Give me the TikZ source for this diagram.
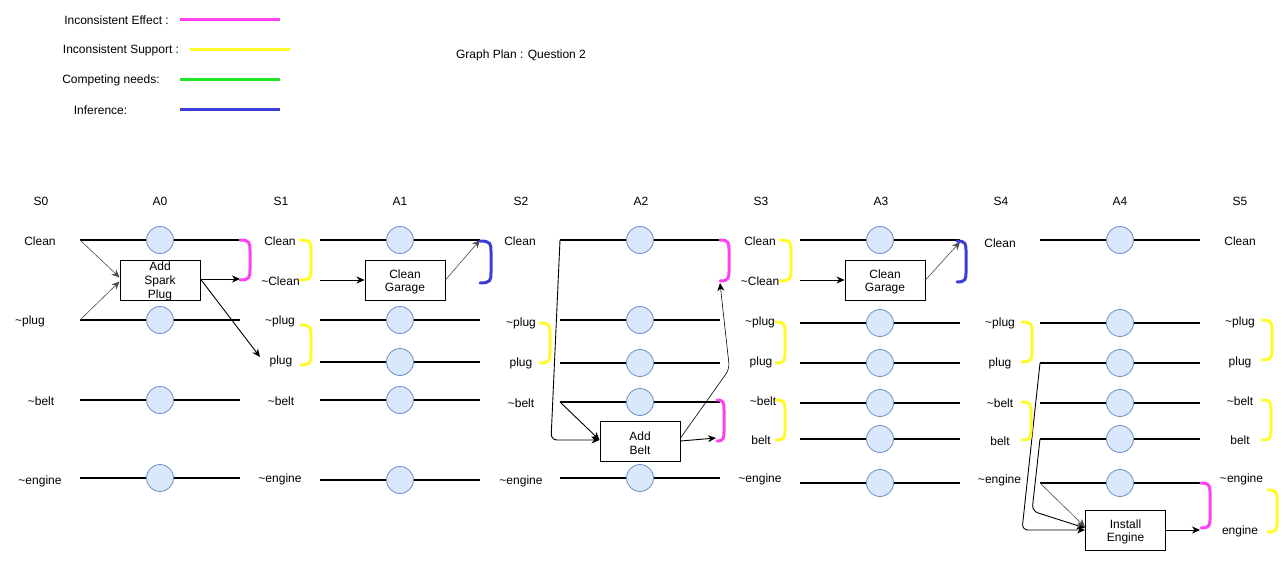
\documentclass[tikz,border=0pt]{standalone}
\usepackage{fontspec}
\setmainfont{Liberation Sans}
\usetikzlibrary{arrows.meta}
\definecolor{ieC}{RGB}{255,64,240}
\definecolor{isC}{RGB}{255,250,40}
\definecolor{cnC}{RGB}{30,230,30}
\definecolor{infC}{RGB}{60,60,215}
\definecolor{noopF}{HTML}{DAE8FC}
\definecolor{noopD}{HTML}{6C8EBF}
\newcommand\tld{\textasciitilde}
\newcommand\mybrak[5]{%
  \draw[brk,#1] (#2,#3) .. controls (#2+#5,#3) and (#2+#5,#3+3) .. (#2+#5,#3+11)
    -- (#2+#5,#4-11) .. controls (#2+#5,#4-3) and (#2+#5,#4) .. (#2,#4);}
\begin{document}
\begin{tikzpicture}[x=1pt,y=-1pt,font=\fontsize{12}{14}\selectfont,
  lbl/.style={inner sep=0pt,anchor=center},
  noop/.style={circle,draw=noopD,fill=noopF,line width=0.8pt,minimum size=27pt,inner sep=0pt},
  actbox/.style={draw,line width=0.9pt,fill=white,minimum width=80pt,minimum height=40pt,inner sep=0pt},
  acttext/.style={align=center,inner sep=0pt,font=\fontsize{12}{13.7}\selectfont},
  lvl/.style={line width=2pt},
  arr/.style={line width=0.9pt,-{Stealth[length=8pt,width=7pt,inset=2.5pt]}},
  tarr/.style={line width=0.6pt,draw=black!70,-{Stealth[length=8pt,width=7pt,inset=2.5pt]}},
  brk/.style={line width=3pt,line cap=round},
]
\useasboundingbox (0,0) rectangle (1287,561);

% legend
\node[lbl] (lg1) at (116.5,20) {Inconsistent Effect :};
\node[lbl] (lg2) at (121,50) {Inconsistent Support :};
\node[lbl] (lg3) at (111,80) {Competing needs:};
\node[lbl] (lg4) at (100.5,110) {Inference:};
\coordinate (lg1a) at (180,20); \coordinate (lg1b) at (280,20);
\coordinate (lg2a) at (190,50); \coordinate (lg2b) at (290,50);
\coordinate (lg3a) at (180,80); \coordinate (lg3b) at (280,80);
\coordinate (lg4a) at (180,110); \coordinate (lg4b) at (280,110);
\draw[line width=3pt,ieC] (lg1a) -- (lg1b);
\draw[line width=3pt,isC] (lg2a) -- (lg2b);
\draw[line width=3pt,cnC] (lg3a) -- (lg3b);
\draw[line width=3pt,infC] (lg4a) -- (lg4b);
\node[lbl] (title) at (521,55) {Graph Plan : Question 2};

% headers
\foreach \n/\x in {S0/41,A0/160,S1/281,A1/400,S2/521,A2/641,S3/761,A3/881,S4/1001,A4/1120,S5/1240}
  \node[lbl] (h\n) at (\x,201) {\n};

% level lines with no-op circles
\foreach \x/\y/\n in {80/240/a0c,80/320/a0p,80/400/a0b,80/478/a0e,
  320/240/a1c,320/320/a1np,320/362/a1p,320/400/a1b,320/480/a1e,
  560/240/a2c,560/320/a2np,560/363/a2p,560/402/a2b,560/478/a2e,
  800/240/a3c,800/323/a3np,800/363/a3p,800/403/a3nb,800/439/a3b,800/483/a3e,
  1040/240/a4c,1040/323/a4np,1040/363/a4p,1040/403/a4nb,1040/439/a4b,1040/483/a4e}{
  \coordinate (\n-l) at (\x,\y);
  \coordinate (\n-r) at (\x+160,\y);
  \draw[lvl] (\n-l) -- (\n-r);
  \node[noop] (\n) at (\x+80,\y) {};
}

% state labels
\node[lbl] (s0c) at (40,241) {Clean};
\node[lbl] (s0p) at (30,321) {\tld plug};
\node[lbl] (s0b) at (41,401) {\tld belt};
\node[lbl] (s0e) at (40,481) {\tld engine};

\node[lbl] (s1c) at (280,241) {Clean};
\node[lbl] (s1nc) at (280.5,281) {\tld Clean};
\node[lbl] (s1np) at (280,321) {\tld plug};
\node[lbl] (s1p) at (281,361) {plug};
\node[lbl] (s1b) at (281,401) {\tld belt};
\node[lbl] (s1e) at (280,479) {\tld engine};

\node[lbl] (s2c) at (520,241) {Clean};
\node[lbl] (s2np) at (521,323) {\tld plug};
\node[lbl] (s2p) at (521,363) {plug};
\node[lbl] (s2b) at (521,403) {\tld belt};
\node[lbl] (s2e) at (521,481) {\tld engine};

\node[lbl] (s3c) at (760,241) {Clean};
\node[lbl] (s3nc) at (760,281) {\tld Clean};
\node[lbl] (s3np) at (760,322) {\tld plug};
\node[lbl] (s3p) at (761,362) {plug};
\node[lbl] (s3nb) at (763,401) {\tld belt};
\node[lbl] (s3b) at (761,440) {belt};
\node[lbl] (s3e) at (760,479) {\tld engine};

\node[lbl] (s4c) at (1000,243) {Clean};
\node[lbl] (s4np) at (1000,323) {\tld plug};
\node[lbl] (s4p) at (1000,363) {plug};
\node[lbl] (s4nb) at (1000,403) {\tld belt};
\node[lbl] (s4b) at (1000,441) {belt};
\node[lbl] (s4e) at (999.5,480) {\tld engine};

\node[lbl] (s5c) at (1240,241) {Clean};
\node[lbl] (s5np) at (1240,322) {\tld plug};
\node[lbl] (s5p) at (1240,362) {plug};
\node[lbl] (s5nb) at (1240,401) {\tld belt};
\node[lbl] (s5b) at (1240,440) {belt};
\node[lbl] (s5ne) at (1241.5,479) {\tld engine};
\node[lbl] (s5e) at (1240,531) {engine};

% action boxes
\node[actbox] (asp) at (160,280) {};
\node[acttext] (asp-t) at ([yshift=-1.5pt]asp.center) {Add\\Spark\\Plug};
\node[actbox] (cg1) at (405,280) {};
\node[acttext] (cg1-t) at ([yshift=-2pt]cg1.center) {Clean\\Garage};
\node[actbox] (ab) at (640,441) {};
\node[acttext] (ab-t) at ([yshift=-2pt]ab.center) {Add\\Belt};
\node[actbox] (cg3) at (885,280) {};
\node[acttext] (cg3-t) at ([yshift=-2pt]cg3.center) {Clean\\Garage};
\node[actbox] (ie) at (1125.5,530) {};
\node[acttext] (ie-t) at ([yshift=-2pt]ie.center) {Install\\Engine};

% A0 connectors
\coordinate (a0out1) at (240,279);
\coordinate (a0out2) at (260,357);
\draw[tarr] (a0c-l) -- ([yshift=2.5pt]asp.west);
\draw[tarr] (a0p-l) -- ([yshift=-1.5pt]asp.west);
\draw[arr] ([yshift=1pt]asp.east) -- (a0out1);
\draw[arr] ([yshift=1pt]asp.east) -- (a0out2);

% A1 connectors
\coordinate (a1nc-l) at (320,280);
\draw[arr] (a1nc-l) -- (cg1.west);
\draw[tarr] (cg1.east) -- (a1c-r);

% A2 connectors
\coordinate (a2bend1) at (551,440);
\coordinate (a2bend2) at (729.5,369);
\coordinate (a2out1) at (720,283);
\coordinate (a2out2) at (716,438);
\draw[arr,rounded corners=6pt] (a2c-l) -- (a2bend1) -- ([yshift=1pt]ab.west);
\draw[arr] (a2b-l) -- ([yshift=1pt]ab.west);
\draw[arr] (ab.east) -- (a2out2);
\draw[tarr,draw=black,rounded corners=6pt] ([yshift=3pt]ab.east) -- (a2bend2) -- (a2out1);

% A3 connectors
\coordinate (a3nc-l) at (800,280);
\coordinate (a3out) at (960,242);
\draw[arr] (a3nc-l) -- (cg3.west);
\draw[tarr] (cg3.east) -- (a3out);

% A4 connectors
\coordinate (a4bend1) at (1022,530);
\coordinate (a4bend2) at (1032,511);
\coordinate (a4out) at (1200,530);
\draw[arr,rounded corners=6pt] (a4p-l) -- (a4bend1) -- (ie.west);
\draw[arr,rounded corners=6pt] (a4b-l) -- (a4bend2) -- ([yshift=2pt]ie.west);
\draw[tarr] (a4e-l) -- ([yshift=3pt]ie.west);
\draw[arr] (ie.east) -- (a4out);

% mutex brackets
\mybrak{ieC}{240}{240}{280}{10}
\mybrak{ieC}{720}{240}{281}{9}
\mybrak{ieC}{717}{400}{441}{7}
\mybrak{ieC}{1201}{483}{528}{9}
\mybrak{infC}{480}{241}{283}{11}
\mybrak{infC}{957}{241}{282}{9}
\mybrak{isC}{300}{240}{280}{11}
\mybrak{isC}{301}{325}{365}{10}
\mybrak{isC}{540}{323}{363}{10}
\mybrak{isC}{780}{240}{281}{11}
\mybrak{isC}{776}{322}{363}{9}
\mybrak{isC}{776}{400}{440}{9}
\mybrak{isC}{1022}{322}{362}{10}
\mybrak{isC}{1022}{402}{440}{9}
\mybrak{isC}{1262}{320}{360}{10}
\mybrak{isC}{1262}{400}{440}{9}
\mybrak{isC}{1268}{490}{532}{9}
\end{tikzpicture}
\end{document}
